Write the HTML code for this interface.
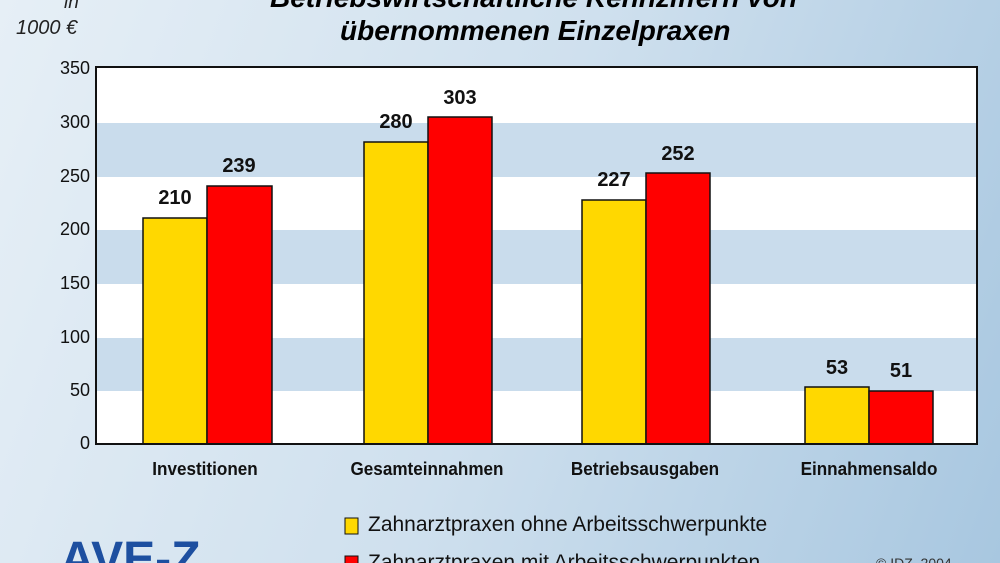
<!DOCTYPE html>
<html style="overflow:hidden;width:1000px;height:563px"><head><meta charset="utf-8"><style>
body{margin:0;width:1000px;height:563px;overflow:hidden;background:linear-gradient(110deg,#e6eff6 0%,#cfe0ee 50%,#a8c7e0 100%);font-family:"Liberation Sans",sans-serif;position:relative}
.t{position:absolute;white-space:nowrap}
.yl{position:absolute;left:40px;width:50px;text-align:right;font-size:18px;color:#111}
.v{position:absolute;width:64px;text-align:center;font-weight:bold;font-size:20px;color:#111}
.c{position:absolute;font-weight:bold;font-size:18px;color:#111;text-align:center;width:200px;transform:scaleX(.95)}
</style></head><body>
<div class="t" style="left:270px;top:-18px;font-size:28px;font-weight:bold;font-style:italic">Betriebswirtschaftliche Kennziffern von</div>
<div class="t" style="left:340px;top:15px;font-size:28px;font-weight:bold;font-style:italic">übernommenen Einzelpraxen</div>
<div class="t" style="left:64px;top:-8px;font-size:19px;font-style:italic;color:#222">in</div>
<div class="t" style="left:16px;top:17px;font-size:20px;font-style:italic;color:#222">1000 €</div>
<svg width="1000" height="563" style="position:absolute;left:0;top:0">
<rect x="96" y="67" width="881" height="377" fill="#fff"/>
<g fill="#c9dcec"><rect x="96" y="123" width="881" height="54"/><rect x="96" y="230" width="881" height="54"/><rect x="96" y="338" width="881" height="53"/></g>
<g stroke="#111" stroke-width="1.5">
<rect x="143" y="218" width="64" height="226" fill="#ffd800"/><rect x="207" y="186" width="65" height="258" fill="#f00"/>
<rect x="364" y="142" width="64" height="302" fill="#ffd800"/><rect x="428" y="117" width="64" height="327" fill="#f00"/>
<rect x="582" y="200" width="64" height="244" fill="#ffd800"/><rect x="646" y="173" width="64" height="271" fill="#f00"/>
<rect x="805" y="387" width="64" height="57" fill="#ffd800"/><rect x="869" y="391" width="64" height="53" fill="#f00"/>
</g>
<rect x="96" y="67" width="881" height="377" fill="none" stroke="#111" stroke-width="2"/>
<rect x="345" y="518" width="13" height="16" fill="#ffd800" stroke="#111"/>
<rect x="345" y="556" width="13" height="16" fill="#f00" stroke="#111"/>
<text x="60" y="575" font-family="Liberation Sans" font-weight="bold" font-size="48" fill="#1d4fa0">AVE-Z</text>
</svg>
<div class="yl" style="top:58px">350</div><div class="yl" style="top:112px">300</div><div class="yl" style="top:166px">250</div><div class="yl" style="top:219px">200</div><div class="yl" style="top:273px">150</div><div class="yl" style="top:327px">100</div><div class="yl" style="top:380px">50</div><div class="yl" style="top:433px">0</div>
<div class="v" style="left:143px;top:187px">210</div><div class="v" style="left:207px;top:155px">239</div>
<div class="v" style="left:364px;top:111px">280</div><div class="v" style="left:428px;top:87px">303</div>
<div class="v" style="left:582px;top:169px">227</div><div class="v" style="left:646px;top:143px">252</div>
<div class="v" style="left:805px;top:357px">53</div><div class="v" style="left:869px;top:360px">51</div>
<div class="c" style="left:105px;top:459px">Investitionen</div>
<div class="c" style="left:327px;top:459px">Gesamteinnahmen</div>
<div class="c" style="left:545px;top:459px">Betriebsausgaben</div>
<div class="c" style="left:769px;top:459px">Einnahmensaldo</div>
<div class="t" style="left:368px;top:513px;font-size:21px;color:#111">Zahnarztpraxen ohne Arbeitsschwerpunkte</div>
<div class="t" style="left:368px;top:551px;font-size:21px;color:#111">Zahnarztpraxen mit Arbeitsschwerpunkten</div>
<div class="t" style="left:876px;top:555px;font-size:14px;color:#333">© IDZ, 2004</div>
</body></html>
